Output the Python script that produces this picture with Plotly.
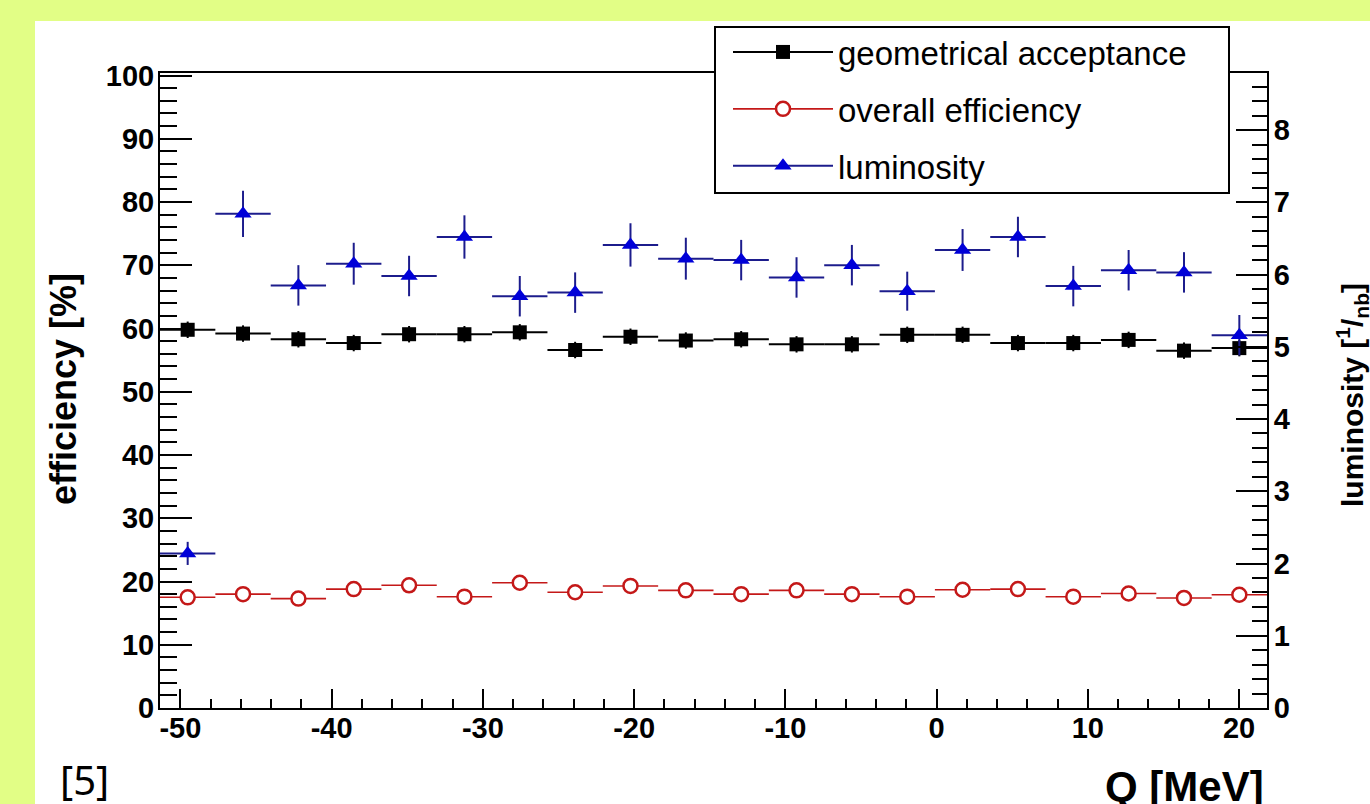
import plotly.graph_objects as go

# ---- data ----
q_centers = [-49.52, -45.86, -42.20, -38.54, -34.88, -31.22, -27.56, -23.90, -20.24, -16.58,
             -12.92, -9.26, -5.60, -1.94, 1.72, 5.38, 9.04, 12.70, 16.36, 20.02]
q_bin_width = 3.66

geo_acceptance = [59.8, 59.2, 58.3, 57.7, 59.1, 59.1, 59.4, 56.6, 58.7, 58.1,
                  58.3, 57.5, 57.5, 59.0, 59.0, 57.7, 57.7, 58.2, 56.5, 56.9]
geo_acceptance_err = [1.3] * 20

overall_eff = [17.5, 18.0, 17.3, 18.8, 19.4, 17.6, 19.8, 18.3, 19.3, 18.6,
               18.0, 18.6, 18.0, 17.6, 18.7, 18.8, 17.6, 18.1, 17.4, 17.9]

luminosity = [2.14, 6.84, 5.85, 6.15, 5.98, 6.52, 5.70, 5.75, 6.41, 6.22,
              6.20, 5.96, 6.13, 5.77, 6.34, 6.52, 5.84, 6.06, 6.03, 5.16]
luminosity_err = [0.16, 0.32, 0.28, 0.29, 0.28, 0.30, 0.28, 0.28, 0.30, 0.29,
                  0.28, 0.28, 0.28, 0.27, 0.29, 0.28, 0.28, 0.28, 0.28, 0.28]

x_tick_vals = [-50, -40, -30, -20, -10, 0, 10, 20]
x_tick_text = ["-50", "-40", "-30", "-20", "-10", "0", "10", "20"]

x_range = [-51.35, 21.85]
y_left_range = [0, 100.4]
y_right_range = [0, 8.79]

# ---- layout geometry ----
W, H = 1370, 804
L, R, T, B = 160, 103, 73, 96
pw, ph = W - L - R, H - T - B


def px(x):
    return (x - L) / pw


def py(y):
    return (H - B - y) / ph


YELLOW = "#e2fe86"
BLUE = "#0000d8"
BLUE_ERR = "#1c1c8c"
RED = "#c41818"
FONT = "Liberation Sans"

fig = go.Figure()

half = q_bin_width / 2

fig.add_trace(go.Scatter(
    x=q_centers, y=geo_acceptance, mode="markers", showlegend=False,
    marker=dict(symbol="square", size=14, color="black"),
    error_x=dict(type="constant", value=half, color="black", thickness=2, width=0),
    error_y=dict(type="data", array=geo_acceptance_err, color="black", thickness=2, width=0),
))
fig.add_trace(go.Scatter(
    x=q_centers, y=overall_eff, mode="markers", showlegend=False,
    marker=dict(symbol="circle", size=14, color="white", line=dict(color=RED, width=2.5)),
    error_x=dict(type="constant", value=half, color=RED, thickness=1.6, width=0),
))
fig.add_trace(go.Scatter(
    x=q_centers, y=luminosity, mode="markers", showlegend=False, yaxis="y2",
    marker=dict(symbol="triangle-up", size=15, color=BLUE),
    error_x=dict(type="constant", value=half, color=BLUE_ERR, thickness=2, width=0),
    error_y=dict(type="data", array=luminosity_err, color=BLUE_ERR, thickness=2, width=0),
))

# legend-only entries
fig.add_trace(go.Scatter(x=[None], y=[None], mode="lines+markers", name="geometrical acceptance",
                         legendgroup="a", line=dict(color="black", width=2),
                         marker=dict(symbol="square", size=14, color="black")))
fig.add_trace(go.Scatter(x=[None], y=[None], mode="lines+markers", name="overall efficiency",
                         legendgroup="b", line=dict(color=RED, width=1.6),
                         marker=dict(symbol="circle", size=14, color="white", line=dict(color=RED, width=2.5))))
fig.add_trace(go.Scatter(x=[None], y=[None], mode="lines+markers", name="luminosity",
                         legendgroup="c", line=dict(color=BLUE_ERR, width=2),
                         marker=dict(symbol="triangle-up", size=15, color=BLUE)))

tickfont = dict(family=FONT, size=29, color="black", weight="bold")

fig.update_layout(
    width=W, height=H,
    margin=dict(l=L, r=R, t=T, b=B, pad=0),
    paper_bgcolor=YELLOW,
    plot_bgcolor="white",
    xaxis=dict(
        range=x_range, showgrid=False, zeroline=False,
        showline=True, linecolor="black", linewidth=2, mirror=True,
        ticks="inside", ticklen=19, tickwidth=2, tickcolor="black",
        tickmode="array", tickvals=x_tick_vals, ticktext=x_tick_text,
        tickfont=tickfont, ticklabelstandoff=-7,
        minor=dict(ticks="inside", ticklen=9, tickwidth=2, tickcolor="black", tick0=0, dtick=2),
    ),
    yaxis=dict(
        range=y_left_range, showgrid=False, zeroline=False,
        showline=True, linecolor="black", linewidth=2, mirror=True,
        ticks="inside", ticklen=32, tickwidth=2, tickcolor="black",
        tick0=0, dtick=10, tickfont=tickfont, ticklabelstandoff=-2,
        minor=dict(ticks="inside", ticklen=17, tickwidth=2, tickcolor="black", tick0=0, dtick=2),
    ),
    yaxis2=dict(
        range=y_right_range, overlaying="y", side="right", showgrid=False, zeroline=False,
        showline=True, linecolor="black", linewidth=2,
        ticks="inside", ticklen=31, tickwidth=2, tickcolor="black",
        tick0=0, dtick=1, tickfont=tickfont, ticklabelstandoff=-1,
        minor=dict(ticks="inside", ticklen=15, tickwidth=2, tickcolor="black", tick0=0, dtick=0.2),
    ),
    legend=dict(
        x=px(728), y=py(24), xanchor="left", yanchor="top",
        bgcolor="rgba(0,0,0,0)", borderwidth=0,
        font=dict(family=FONT, size=33, color="black"),
        itemwidth=100, tracegroupgap=11,
    ),
    shapes=[
        dict(type="rect", xref="paper", yref="paper", layer="below",
             x0=px(35), x1=px(W + 5), y0=py(H + 5), y1=py(21),
             fillcolor="white", line=dict(width=0)),
        dict(type="rect", xref="paper", yref="paper", layer="above",
             x0=px(715), x1=px(1229), y0=py(193), y1=py(27),
             fillcolor="white", line=dict(color="black", width=2)),
    ],
    annotations=[
        dict(text="efficiency [%]", xref="paper", yref="paper", x=px(63), y=py(389),
             xanchor="center", yanchor="middle", textangle=-90, showarrow=False,
             font=dict(family=FONT, size=36, color="black", weight="bold")),
        dict(text="luminosity [<sup>1</sup>/<sub>nb</sub>]", xref="paper", yref="paper",
             x=px(1352), y=py(395), xanchor="center", yanchor="middle", textangle=-90,
             showarrow=False, font=dict(family=FONT, size=30, color="black", weight="bold")),
        dict(text="Q [MeV]", xref="paper", yref="paper", x=px(1266), y=py(786),
             xanchor="right", yanchor="middle", showarrow=False,
             font=dict(family=FONT, size=42, color="black", weight="bold")),
        dict(text="[5]", xref="paper", yref="paper", x=px(84), y=py(779),
             xanchor="center", yanchor="middle", showarrow=False,
             font=dict(family="Noto Sans", size=40, color="black")),
    ],
)

fig.write_html("out.html", config={"displayModeBar": False},
               post_script="document.body.style.margin='0px';")
